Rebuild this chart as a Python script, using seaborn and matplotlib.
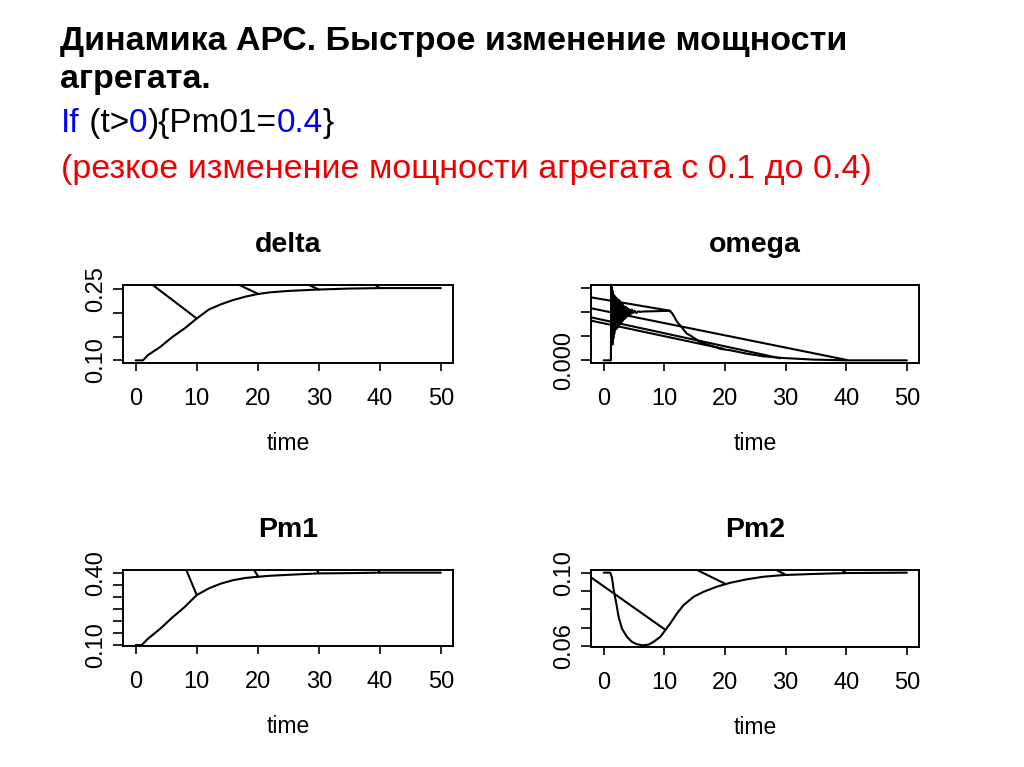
import numpy as np
import pandas as pd
import seaborn as sns
import matplotlib.pyplot as plt

# Data (time, value); "jump" lists are the stray straight segments
delta_time = [0, 1.2, 2, 4, 6, 8, 10, 12, 14, 16, 18, 20, 22, 25, 30, 35, 40, 50]
delta_value = [0.100, 0.100, 0.111, 0.128, 0.149, 0.167, 0.188, 0.207, 0.218, 0.227,
               0.234, 0.2395, 0.243, 0.246, 0.249, 0.251, 0.252, 0.252]
delta_jump_time = [[2.8, 10], [17, 20.1], [28.4, 30], [39.3, 40]]
delta_jump_value = [[0.2585, 0.188], [0.2585, 0.2395], [0.2585, 0.249], [0.2585, 0.252]]

omega_time = [0, 1.1, 1.2, 1.25, 1.32, 1.38, 1.45, 1.52, 1.6, 1.68, 1.76, 1.84, 1.92, 2.0,
              2.08, 2.16, 2.24, 2.32, 2.4, 2.48, 2.56, 2.64, 2.72, 2.8, 2.88, 2.96, 3.04,
              3.12, 3.2, 3.3, 3.4, 3.5, 3.6, 3.7, 3.8, 3.95, 4.1, 4.25, 4.45, 4.65, 4.85,
              5.1, 5.4, 5.7, 6.0, 6.5, 8.0, 9.5, 10.8, 11.2, 11.6, 12.1, 12.6, 13.7, 14.3,
              15.9, 16.5, 18.7, 19.2, 20.9, 23.6, 26.4, 29.7, 34.6, 40.1, 50]
omega_value = [0, 0, 0, 0.0061, 0.0020, 0.0060, 0.0013, 0.0057, 0.0018, 0.0054, 0.0022,
               0.0053, 0.0025, 0.0052, 0.0026, 0.0051, 0.0027, 0.0050, 0.0028, 0.0050,
               0.0029, 0.0049, 0.0030, 0.0048, 0.0031, 0.0047, 0.0032, 0.0046, 0.0033,
               0.0045, 0.0034, 0.0044, 0.0035, 0.0044, 0.0036, 0.0043, 0.0037, 0.0042,
               0.0038, 0.0042, 0.0039, 0.0041, 0.0039, 0.00405, 0.0040, 0.00403, 0.00405,
               0.00407, 0.00409, 0.00395, 0.00365, 0.00318, 0.0029, 0.00221, 0.00205,
               0.00152, 0.0014, 0.00105, 0.00095, 0.00083, 0.00055, 0.00033, 0.00019,
               0.00006, 0.0, 0.0]
omega_jump_time = [[-2.08, 11.0], [-2.08, 40.1], [-2.08, 29.1], [-2.08, 19.8]]
omega_jump_value = [[0.0052, 0.00409], [0.00430, 0.00003], [0.00355, 0.00017], [0.00328, 0.00095]]

pm1_time = [0, 1.0, 2, 4, 6, 8, 10, 12, 14, 16, 18, 20, 22, 25, 30, 35, 40, 50]
pm1_value = [0.100, 0.100, 0.126, 0.167, 0.214, 0.257, 0.307, 0.335, 0.355, 0.369,
             0.378, 0.383, 0.387, 0.391, 0.397, 0.398, 0.400, 0.400]
pm1_jump_time = [[8.3, 10], [19.4, 20.1], [29.7, 30], [39.7, 40]]
pm1_jump_value = [[0.411, 0.307], [0.411, 0.383], [0.411, 0.397], [0.411, 0.400]]

pm2_time = [0, 1.1, 1.37, 1.65, 2.09, 2.47, 3.02, 3.85, 4.67, 5.49, 6.48, 7.42, 8.24, 9.34,
            10.16, 10.99, 12.09, 13.19, 14.84, 16.48, 18.68, 20.88, 23.63, 26.37, 29.67,
            34.6, 40.1, 50]
pm2_value = [0.1000, 0.1000, 0.0975, 0.0909, 0.0833, 0.0760, 0.0696, 0.0651, 0.0624,
             0.0611, 0.0605, 0.0609, 0.0624, 0.0651, 0.0687, 0.0724, 0.0778, 0.0824,
             0.0869, 0.0896, 0.0924, 0.0945, 0.0964, 0.0978, 0.0987, 0.0993, 0.0998, 0.1000]
pm2_jump_time = [[-2.08, 10.16], [15.4, 19.9], [28.5, 29.9], [39.3, 40]]
pm2_jump_value = [[0.09745, 0.0690], [0.10145, 0.0942], [0.10145, 0.0990], [0.10145, 0.0998]]

panel_names = ['delta', 'omega', 'Pm1', 'Pm2']
x_ticks = [0, 10, 20, 30, 40, 50]
y_ticks = {
    'delta': [0.10, 0.15, 0.20, 0.25],
    'omega': [0.000, 0.002, 0.004, 0.006],
    'Pm1': [0.10, 0.15, 0.20, 0.25, 0.30, 0.35, 0.40],
    'Pm2': [0.06, 0.07, 0.08, 0.09, 0.10],
}
y_tick_labels = {
    'delta': ['0.10', '', '', '0.25'],
    'omega': ['0.000', '', '', ''],
    'Pm1': ['0.10', '', '', '', '', '', '0.40'],
    'Pm2': ['0.06', '', '', '', '0.10'],
}
y_limits = {
    'delta': (0.0944, 0.2585),
    'omega': (-0.00022, 0.00622),
    'Pm1': (0.0959, 0.411),
    'Pm2': (0.0596, 0.10145),
}

title_lines = ['Динамика АРС. Быстрое изменение мощности', 'агрегата.']
code_parts = ['If', ' (t>', '0', '){Pm01=', '0.4', '}']
code_colors = ['#0000ee', 'black', '#0000ee', 'black', '#0000ee', 'black']
note_line = '(резкое изменение мощности агрегата с 0.1 до 0.4)'


def make_frame(time, value, jump_time, jump_value):
    rows = [pd.DataFrame({'time': time, 'value': value, 'piece': 0})]
    for i, (jt, jv) in enumerate(zip(jump_time, jump_value)):
        rows.append(pd.DataFrame({'time': jt, 'value': jv, 'piece': i + 1}))
    return pd.concat(rows, ignore_index=True)


frames = {
    'delta': make_frame(delta_time, delta_value, delta_jump_time, delta_jump_value),
    'omega': make_frame(omega_time, omega_value, omega_jump_time, omega_jump_value),
    'Pm1': make_frame(pm1_time, pm1_value, pm1_jump_time, pm1_jump_value),
    'Pm2': make_frame(pm2_time, pm2_value, pm2_jump_time, pm2_jump_value),
}

sns.set_style('white')
plt.rcParams['font.family'] = ['Liberation Sans', 'DejaVu Sans']
plt.rcParams['text.color'] = 'black'
plt.rcParams['axes.labelcolor'] = 'black'
plt.rcParams['axes.titlecolor'] = 'black'

W, H = 1024, 767
fig = plt.figure(figsize=(W / 100, H / 100), dpi=100)

# plot boxes in pixels: left, top, right, bottom
boxes = {
    'delta': (123, 285, 453, 363),
    'omega': (591, 285, 919, 363),
    'Pm1': (123, 570, 453, 646),
    'Pm2': (591, 570, 919, 647),
}

for name in panel_names:
    l, t, r, b = boxes[name]
    ax = fig.add_axes([l / W, 1 - b / H, (r - l) / W, (b - t) / H])
    sns.lineplot(data=frames[name], x='time', y='value', units='piece', estimator=None,
                 sort=False, color='black', linewidth=1.5, ax=ax)
    ax.set_xlim(-2.08, 52.0)
    ax.set_ylim(*y_limits[name])
    ax.set_xticks(x_ticks)
    ax.set_xticklabels([str(v) for v in x_ticks])
    ax.set_yticks(y_ticks[name])
    ax.set_yticklabels(y_tick_labels[name], rotation=90, va='center')
    ax.tick_params(axis='x', bottom=True, direction='out', length=5.5, width=1.2,
                   pad=12.5, labelsize=17, colors='black')
    ax.tick_params(axis='y', left=True, direction='out', length=7, width=1.2,
                   pad=4.5, labelsize=17, colors='black')
    for sp in ax.spines.values():
        sp.set_color('black')
        sp.set_linewidth(1.4)
    ax.set_ylabel('')
    ax.set_xlabel('time', fontsize=16.5)
    ax.xaxis.set_label_coords(0.5, -87 / (b - t))
    ax.xaxis.label.set_va('baseline')
    ax.set_title(name, fontsize=20.5, fontweight='bold', pad=24)

# slide heading
fig.text(60 / W, 1 - 50 / H, title_lines[0], fontsize=24.5, fontweight='bold', va='baseline')
fig.text(60 / W, 1 - 88 / H, title_lines[1], fontsize=24.5, fontweight='bold', va='baseline')

renderer = fig.canvas.get_renderer()
x = 61
for piece, col in zip(code_parts, code_colors):
    txt = fig.text(x / W, 1 - 132 / H, piece, fontsize=24, color=col, va='baseline')
    x = txt.get_window_extent(renderer).x1

fig.text(61 / W, 1 - 178 / H, note_line, fontsize=24.5, color='#ee0000', va='baseline')

fig.savefig('out.png', dpi=100)
